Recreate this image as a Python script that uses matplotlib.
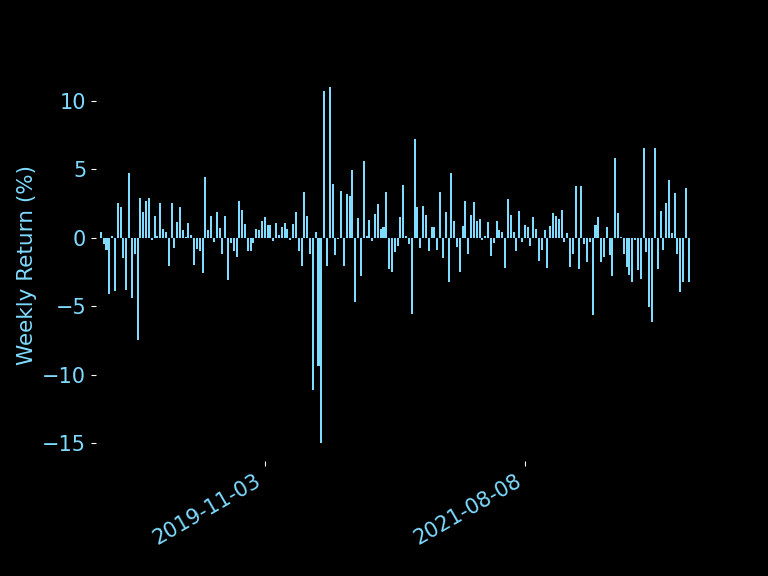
import matplotlib
matplotlib.use("Agg")
import matplotlib.pyplot as plt
import matplotlib.dates as mdates
import pandas as pd

# weekly returns (%), one value per week
start_date = "2018-09-23"
returns_a = [0.4, -0.45, -0.93, -4.1, 0.12, -3.9, 2.5, 2.2, -1.46, -3.8, 4.7, -4.4,
             -1.2, -7.5, 2.9, 1.9, 2.65, 2.9, -0.2, 1.6, 0.15, 2.55, 0.65, 0.44,
             -2.1, 2.5, -0.73, 1.17, 2.2, 0.58, 0.07, 1.1, 0.22, -2.0, -0.8, -1.0]
returns_b = [-2.6, 4.45, 0.58, 1.6, -0.3, 1.9, 0.73, -1.17, 1.6, -3.07, -0.37, -0.95,
             -1.39, 2.7, 2.0, 1.02, -0.95, -0.95, -0.37, 0.66, 0.58, 1.24, 1.53, 0.95,
             0.95, -0.22, 1.1, 0.22, 0.8, 1.1, 0.66, -0.15, 1.02, 1.9, -0.95]
returns_c = [-2.1, 3.3, 1.6, -1.17, -11.1, 0.44, -9.4, -15.0, 10.7, -2.04, 11.0, 3.9,
             -1.24, -0.07, 3.43, -2.1, 3.2, 3.0, 4.9, -4.67, 1.46, -2.77, 5.6, 0.15,
             1.3, -0.22, 1.75, 2.48, 0.66, 0.8, 3.3, -2.26, -2.48, -1.02, -0.58]
returns_d = [1.53, 3.87, 0.15, -0.44, -5.55, 7.2, 2.26, -0.73, 2.34, 1.68, -0.95, 0.8,
             0.8, -0.88, 3.36, -1.46, 1.9, -3.28, 4.74, 1.24, -0.66, -2.48, 0.88, 2.7,
             -1.17, 1.68, 2.63, 1.24, 1.39, -0.15, 0.15, 1.17, -1.31, -0.37, 1.24, 0.58]
returns_e = [0.44, -2.19, 2.85, 1.68, 0.44, -0.95, 1.97, -0.29, 0.95, 0.8, -0.58, 1.53,
             0.66, -1.68, -0.88, 0.58, -2.19, 0.88, 1.82, 1.6, 1.39, 2.04, -0.29, 0.37,
             -2.12, -1.17, 3.8, -2.26, 3.8, -0.44, -1.82, -0.29, -5.69, 0.95, 1.53]
returns_f = [-1.82, -1.39, 0.8, -1.24, -2.77, 5.84, 1.82, 0.07, -1.17, -2.12, -2.7, -3.28,
             -0.15, -2.34, -3.0, 6.57, -1.09, -5.04, -6.13, 6.57, -2.26, 1.97, -0.88, 2.55,
             4.23, 0.37, 3.28, -1.17, -3.94, -3.21, 3.65, -3.28]
returns = returns_a + returns_b + returns_c + returns_d + returns_e + returns_f
tick_dates = ["2019-11-03", "2021-08-08"]

dates = pd.date_range(start_date, periods=len(returns), freq="W")

color = "#7fdbff"
plt.rcParams["font.size"] = 15

fig, ax = plt.subplots(figsize=(7.68, 5.76), dpi=100)
fig.patch.set_facecolor("black")
ax.set_facecolor("black")

ax.bar(dates, returns, width=5, color=color)

ax.set_xlim(dates[0] - pd.Timedelta(days=12), dates[-1] + pd.Timedelta(days=6))
ax.set_xticks(pd.to_datetime(tick_dates))
ax.xaxis.set_major_formatter(mdates.DateFormatter("%Y-%m-%d"))
ax.set_ylabel("Weekly Return (%)", color=color, fontsize=15.5)
ax.tick_params(colors="white", labelcolor=color)
for s in ax.spines.values():
    s.set_visible(False)

fig.autofmt_xdate()
fig.savefig("out.png", facecolor="black")
